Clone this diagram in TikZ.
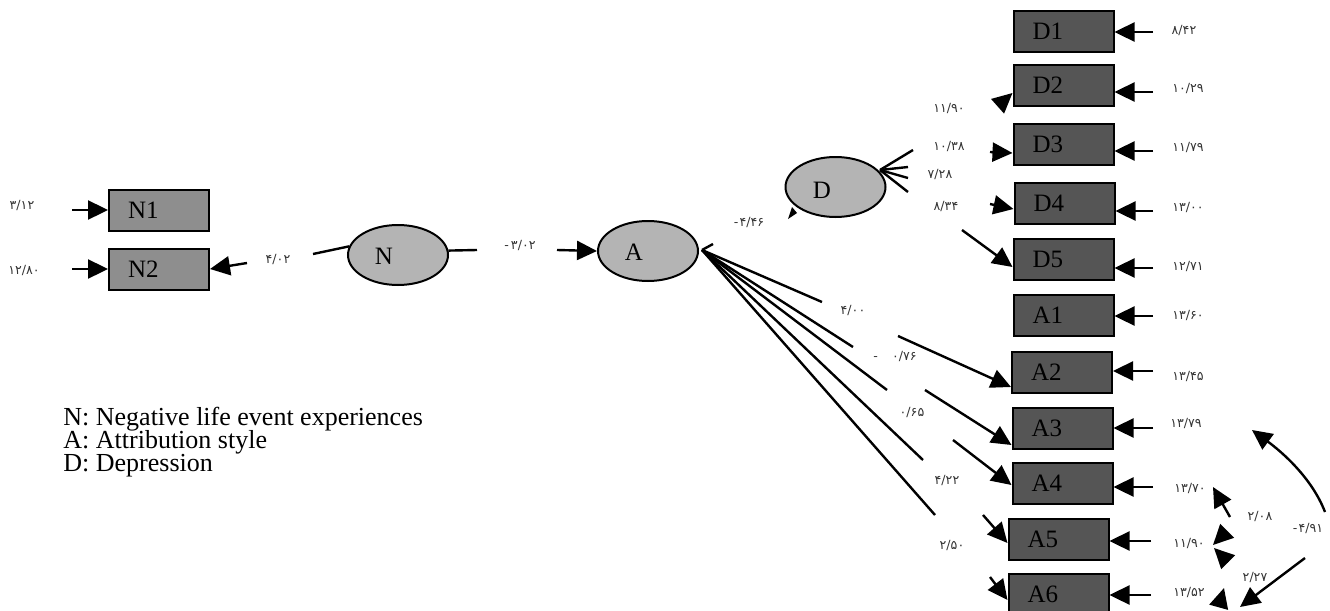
\documentclass[tikz,border=0pt]{standalone}
\usepackage{fontspec}
\setmainfont{Liberation Serif}
\newfontfamily\pfont{DejaVu Sans}
\usetikzlibrary{arrows.meta,shapes.geometric}
\definecolor{boxdark}{HTML}{555555}
\definecolor{boxmid}{HTML}{8E8E8E}
\definecolor{latfill}{HTML}{B4B4B4}
\definecolor{numcol}{HTML}{333333}
\begin{document}
\begin{tikzpicture}[x=0.5pt,y=-0.5pt,
  obs/.style={draw=black, line width=1pt, fill=boxdark, minimum height=20.5pt,
    inner xsep=9.5pt, inner ysep=0pt, text width=31pt, align=left,
    font=\fontsize{12.5}{14}\selectfont},
  obsmid/.style={obs, fill=boxmid},
  lat/.style={ellipse, draw=black, line width=1pt, fill=latfill,
    minimum width=50pt, minimum height=30pt, inner sep=0pt},
  lettr/.style={font=\fontsize{12.5}{14}\selectfont, inner sep=0pt},
  num/.style={font=\pfont\fontsize{6.3}{7}\selectfont, text=numcol, inner sep=0pt},
  arr/.style={line width=1.2pt, -{Triangle[length=10pt,width=9.5pt]}},
  ln/.style={line width=1.2pt},
  legend/.style={anchor=base west, font=\fontsize{13}{15}\selectfont, inner sep=0pt}]
\useasboundingbox (0,0) rectangle (1330,611);
\clip (0,0) rectangle (1330,611);

% observed boxes
\node[obsmid] (N1) at (159,210) {N1};
\node[obsmid] (N2) at (159,269) {N2};
\node[obs] (D1) at (1063.5,31.5) {D1};
\node[obs] (D2) at (1063.5,85.5) {D2};
\node[obs] (D3) at (1063.5,144.5) {D3};
\node[obs] (D4) at (1064.5,203) {D4};
\node[obs] (D5) at (1063.5,259) {D5};
\node[obs] (A1) at (1063.5,315) {A1};
\node[obs] (A2) at (1062,372) {A2};
\node[obs] (A3) at (1062.5,428) {A3};
\node[obs] (A4) at (1062.5,483) {A4};
\node[obs] (A5) at (1058.5,539) {A5};
\node[obs] (A6) at (1058.5,594) {A6};

% latent ellipses
\node[lat] (N) at (398,255) {};
\node[lettr] (Nt) at (384,256) {N};
\node[lat] (A) at (648,251) {};
\node[lettr] (At) at (634,252) {A};
\node[lat] (D) at (835.5,187) {};
\node[lettr] (Dt) at (822,190) {D};

% legend
\node[legend] (leg1) at (63,425) {N: Negative life event experiences};
\node[legend] (leg2) at (63,448) {A: Attribution style};
\node[legend] (leg3) at (63,471) {D: Depression};

% left side
\coordinate (eN1) at (72,210);
\coordinate (eN2) at (72,269);
\coordinate (rN2) at (247,263);
\draw[arr] (eN1) -- (N1.west);
\draw[arr] (eN2) -- (N2.west);
\draw[arr] (rN2) -- (N2.east);
\node[num] (n312) at (22,205) {۳/۱۲};
\node[num] (n1280) at (24,270) {۱۲/۸۰};
\node[num] (n402) at (278,259) {۴/۰۲};

\coordinate (sN) at (313,254);
\draw[ln] (sN) -- (N.170);
\coordinate (eNr) at (477,250);
\draw[ln] (N.5) -- (eNr);
\node[num] (n302) at (520,245) {-\kern1pt۳/۰۲};
\coordinate (sA) at (557,250);
\draw[arr] (sA) -- (A.west);

% A fan
\coordinate (Af) at (702,250);
\coordinate (Au) at (713,244);
\coordinate (Af1) at (822,302);
\coordinate (Af2) at (853,347);
\coordinate (Af3) at (887,390);
\coordinate (Af4) at (923,460);
\coordinate (Af5) at (935,515);
\draw[ln] (Au) -- (Af);
\foreach \e in {Af1,Af2,Af3,Af4,Af5} \draw[ln] (Af) -- (\e);

\node[num] (n400) at (853,310) {۴/۰۰};
\node[num] (n076) at (895,356) {-\hspace{7pt}۰/۷۶};
\node[num] (n065) at (912,412) {۰/۶۵};
\node[num] (n422) at (947,480) {۴/۲۲};
\node[num] (n250) at (952,545) {۲/۵۰};

% arrows into A2..A6
\coordinate (sA2) at (898,336);
\coordinate (sA3) at (925,390);
\coordinate (sA4) at (953,440);
\coordinate (sA5) at (983,515);
\coordinate (sA6) at (990,577);
\draw[arr] (sA2) -- (A2.west |- 0,387);
\draw[arr] (sA3) -- (A3.west |- 0,445);
\draw[arr] (sA4) -- (A4.west |- 0,485);
\draw[arr] (sA5) -- (A5.west |- 0,543);
\draw[arr] (sA6) -- (A6.west |- 0,600);

% D area
\node[num] (n446) at (749,222) {-\kern0.5pt۴/۴۶};
\fill (788,219) -- (797,213) -- (792,207) -- cycle;
\coordinate (Df) at (880,170);
\coordinate (Df1) at (913,150);
\coordinate (Df2) at (908,167);
\coordinate (Df3) at (908,178);
\coordinate (Df4) at (908,192);
\foreach \e in {Df1,Df2,Df3,Df4} \draw[ln] (Df) -- (\e);

\node[num] (n1190a) at (949,108) {۱۱/۹۰};
\node[num] (n1038) at (949,146) {۱۰/۳۸};
\node[num] (n728) at (940,174) {۷/۲۸};
\node[num] (n834) at (946,206) {۸/۳۴};

\coordinate (sD2) at (999,105);
\coordinate (sD3) at (990,152);
\coordinate (sD4) at (990,204);
\coordinate (sD5) at (962,230);
\draw[arr] (sD2) -- (D2.west |- 0,93);
\draw[arr] (sD3) -- (D3.west |- 0,153);
\draw[arr] (sD4) -- (D4.west |- 0,209);
\draw[arr] (sD5) -- (D5.west |- 0,267);

% error arrows on the right
\coordinate (eD1) at (1153,32);
\coordinate (eD2) at (1153,92);
\coordinate (eD3) at (1153,151);
\coordinate (eD4) at (1153,211);
\coordinate (eD5) at (1153,268);
\coordinate (eA1) at (1153,316);
\coordinate (eA2) at (1153,371);
\coordinate (eA3) at (1153,428);
\coordinate (eA4) at (1153,487);
\coordinate (eA5) at (1151,541);
\coordinate (eA6) at (1151,595);
\foreach \b in {D1,D2,D3,D4,D5,A1,A2,A3,A4,A5,A6}
  \draw[arr] (e\b) -- (\b.east |- e\b);

\node[num] (m1) at (1184,30) {۸/۴۲};
\node[num] (m2) at (1188,88) {۱۰/۲۹};
\node[num] (m3) at (1188,147) {۱۱/۷۹};
\node[num] (m4) at (1188,207) {۱۳/۰۰};
\node[num] (m5) at (1188,266) {۱۲/۷۱};
\node[num] (m6) at (1188,315) {۱۳/۶۰};
\node[num] (m7) at (1188,376) {۱۳/۴۵};
\node[num] (m8) at (1186,423) {۱۳/۷۹};
\node[num] (m9) at (1190,488) {۱۳/۷۰};
\node[num] (m10) at (1189,543) {۱۱/۹۰};
\node[num] (m11) at (1189,592) {۱۳/۵۲};

% covariance fragments
\coordinate (c1s) at (1325,512);
\coordinate (c1e) at (1252,430);
\draw[arr] (c1s) .. controls (1312,478) and (1282,452) .. (c1e);
\coordinate (c2s) at (1305,558);
\coordinate (c2e) at (1240,607);
\draw[arr] (c2s) -- (c2e);
\coordinate (c3s) at (1230,517);
\coordinate (c3e) at (1213,487);
\draw[arr] (c3s) -- (c3e);
\coordinate (c4s) at (1226,532);
\coordinate (c4e) at (1213,545);
\draw[arr] (c4s) -- (c4e);
\coordinate (c5s) at (1228,562);
\coordinate (c5e) at (1214,548);
\draw[arr] (c5s) -- (c5e);
\coordinate (c6s) at (1219,606);
\coordinate (c6e) at (1224,588);
\draw[arr] (c6s) -- (c6e);

\node[num] (k208) at (1260,516) {۲/۰۸};
\node[num] (k491) at (1308,528) {-\kern0.5pt۴/۹۱};
\node[num] (k227) at (1255,577) {۲/۲۷};
\end{tikzpicture}
\end{document}
